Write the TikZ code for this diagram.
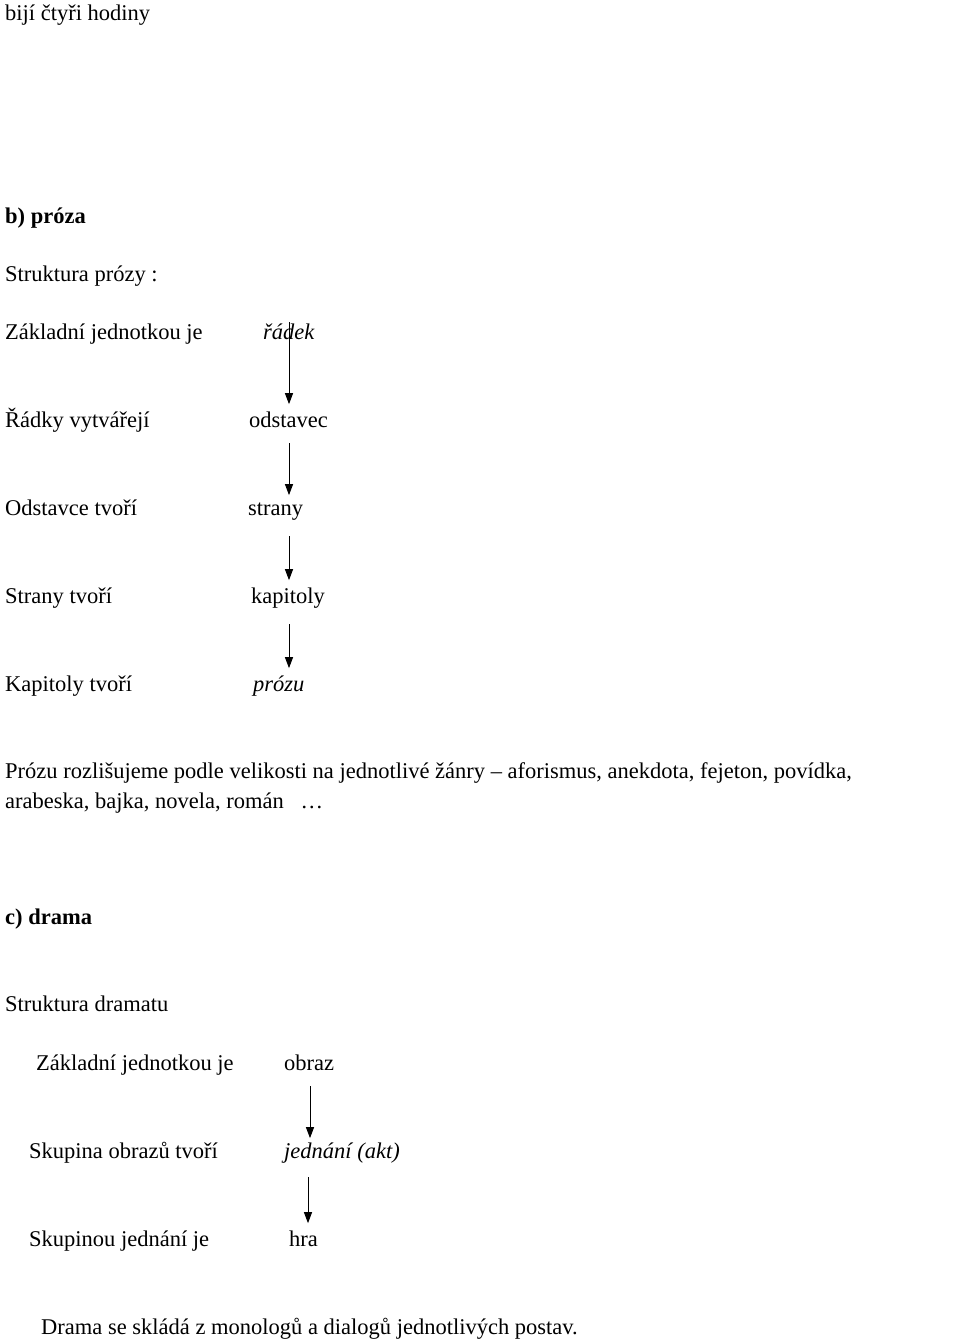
\documentclass[tikz,border=0pt]{standalone}
\usepackage{fontspec}
\setmainfont{Liberation Serif}
\usetikzlibrary{arrows.meta}
\begin{document}
\begin{tikzpicture}[x=1pt,y=-1pt,
  t/.style={anchor=base west,inner sep=0pt,font=\fontsize{22.5}{27}\selectfont},
  arr/.style={-{Triangle[length=11pt,width=8pt]},line width=1pt}]
\useasboundingbox (0,0) rectangle (960,1342);
\node[t] (h) at (5,20) {bijí čtyři hodiny};
\node[t,font=\fontsize{22.5}{27}\selectfont\bfseries] (b) at (5,223) {b) próza};
\node[t] (sp) at (5,281) {Struktura prózy :};
\node[t] (l1) at (5,339) {Základní jednotkou je};
\node[t,font=\fontsize{22.5}{27}\selectfont\itshape] (r1) at (263,339) {řádek};
\node[t] (l2) at (5,427) {Řádky vytvářejí};
\node[t] (r2) at (249,427) {odstavec};
\node[t] (l3) at (5,515) {Odstavce tvoří};
\node[t] (r3) at (248,515) {strany};
\node[t] (l4) at (5,603) {Strany tvoří};
\node[t] (r4) at (251,603) {kapitoly};
\node[t] (l5) at (5,691) {Kapitoly tvoří};
\node[t,font=\fontsize{22.5}{27}\selectfont\itshape] (r5) at (253,691) {prózu};
\node[t] (p1) at (5,778) {Prózu rozlišujeme podle velikosti na jednotlivé žánry – aforismus, anekdota, fejeton, povídka,};
\node[t] (p2) at (5,808) {arabeska, bajka, novela, román \ \ …};
\node[t,font=\fontsize{22.5}{27}\selectfont\bfseries] (c) at (5,924) {c) drama};
\node[t] (sd) at (5,1011) {Struktura dramatu};
\node[t] (d1) at (36,1070) {Základní jednotkou je};
\node[t] (e1) at (284,1070) {obraz};
\node[t] (d2) at (29,1158) {Skupina obrazů tvoří};
\node[t,font=\fontsize{22.5}{27}\selectfont\itshape] (e2) at (284,1158) {jednání (akt)};
\node[t] (d3) at (29,1246) {Skupinou jednání je};
\node[t] (e3) at (289,1246) {hra};
\node[t] (last) at (41,1334) {Drama se skládá z monologů a dialogů jednotlivých postav.};
\coordinate (a1s) at (289,362); \coordinate (a1e) at (289,402);
\draw[arr] (r1.south -| a1s) ++(0,-17) -- ([yshift=7pt]r2.north -| a1s);
\draw[arr] ([yshift=-16pt]r2.south -| a1s) -- ([yshift=7pt]r3.north -| a1s);
\draw[arr] ([yshift=-16pt]r3.south -| a1s) -- ([yshift=7pt]r4.north -| a1s);
\draw[arr] ([yshift=-16pt]r4.south -| a1s) -- ([yshift=7pt]r5.north -| a1s);
\coordinate (a2) at (310,0); \coordinate (a3) at (308,0);
\draw[arr] ([yshift=-16pt]e1.south -| a2) -- ([yshift=4pt]e2.north -| a2);
\draw[arr] ([yshift=-14pt]e2.south -| a3) -- ([yshift=7pt]e3.north -| a3);
\end{tikzpicture}
\end{document}
